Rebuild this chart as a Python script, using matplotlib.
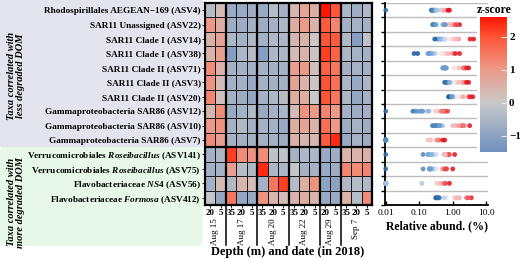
import numpy as np
import matplotlib
matplotlib.use("Agg")
import matplotlib.pyplot as plt
from matplotlib.colors import LinearSegmentedColormap, Normalize, TwoSlopeNorm
from matplotlib.colorbar import ColorbarBase
from matplotlib.patches import FancyBboxPatch, Rectangle

plt.rcParams["font.family"] = ["Liberation Serif", "DejaVu Serif"]
plt.rcParams["font.weight"] = "bold"
plt.rcParams["mathtext.fontset"] = "custom"
plt.rcParams["mathtext.rm"] = "Liberation Serif:bold"
plt.rcParams["mathtext.it"] = "Liberation Serif:italic:bold"

taxa = [
    "Rhodospirillales AEGEAN\u2212169 (ASV4)",
    "SAR11 Unassigned (ASV22)",
    "SAR11 Clade I (ASV14)",
    "SAR11 Clade I (ASV38)",
    "SAR11 Clade II (ASV71)",
    "SAR11 Clade II (ASV3)",
    "SAR11 Clade II (ASV20)",
    "Gammaproteobacteria SAR86 (ASV12)",
    "Gammaproteobacteria SAR86 (ASV10)",
    "Gammaproteobacteria SAR86 (ASV7)",
    "Verrucomicrobiales $\\it{Roseibacillus}$ (ASV141)",
    "Verrucomicrobiales $\\it{Roseibacillus}$ (ASV75)",
    "Flavobacteriaceae $\\it{NS4}$ (ASV56)",
    "Flavobacteriaceae $\\it{Formosa}$ (ASV412)",
]
dates = ["Aug 15", "Aug 17", "Aug 20", "Aug 22", "Aug 29", "Sep 7"]
depths = [["20", "5"], ["35", "20", "5"], ["35", "20", "5"],
          ["35", "20", "5"], ["20", "5"], ["35", "20", "5"]]

# z-score per taxon (rows) and sample (columns)
zscore = np.array([
    [-0.3, 0.3, -0.8, -0.8, -0.7, -0.8, -0.3, -0.6, 0.4, 0.8, 0.6, 2.6, 2.0, -0.5, -0.7, -0.4],
    [1.0, 0.6, -0.7, -0.7, -0.6, -0.7, -0.6, -0.5, 0.6, 1.0, 0.5, 1.9, 1.3, -0.6, -0.6, -0.6],
    [0.5, 0.8, -0.5, -0.6, -0.4, -0.6, -0.4, -0.5, 0.4, 0.5, 0.1, 2.0, 1.9, -0.4, -1.1, -0.2],
    [0.5, 0.9, -1.1, -0.5, -0.3, -1.1, -0.5, -0.5, 0.3, 0.5, 0.1, 2.2, 1.8, -0.5, -0.6, -0.6],
    [1.2, 0.5, -0.6, -0.6, -0.6, -0.6, -0.6, -0.6, 0.9, 1.0, 0.2, 1.8, 1.5, -0.6, -0.6, -0.6],
    [1.1, 0.3, -0.6, -0.6, -0.8, -0.6, -0.6, -0.6, 0.8, 0.5, 0.1, 2.0, 1.6, -0.5, -0.8, -0.5],
    [1.3, 0.2, -0.6, -0.7, -0.9, -0.6, -0.5, -0.3, 0.6, 0.6, 0.0, 2.0, 1.5, -0.5, -0.9, -0.6],
    [0.4, 1.2, -0.8, -0.6, -0.4, -0.8, -0.6, -0.5, 0.3, 1.1, 1.0, 1.3, 1.0, -0.6, -0.7, -0.6],
    [1.0, 1.1, -0.6, -0.4, -0.6, -0.6, -0.6, -0.8, 0.6, 0.8, 0.5, 1.6, 1.0, -0.7, -0.6, -0.7],
    [1.2, 0.9, -0.6, -0.6, -0.6, -0.6, -0.6, -0.7, 0.5, 0.4, 0.4, 1.9, 2.4, -0.8, -0.6, -0.7],
    [-0.6, -0.5, 2.2, 1.2, 1.1, 1.2, -0.2, -0.2, -0.6, -0.5, -0.5, -0.8, -0.7, 0.5, 0.5, 0.5],
    [-0.6, -0.6, 0.9, -0.3, -0.4, 2.4, -0.5, -0.5, -0.1, -0.6, -0.6, -0.8, -0.7, 1.3, 1.2, 1.3],
    [-0.6, 0.3, -0.4, 0.4, 0.3, -0.6, 1.5, 2.2, -0.3, 0.6, 1.1, -1.0, -1.0, -0.4, -0.3, -0.4],
    [-0.1, -0.9, 1.5, -0.9, -0.8, 1.1, 0.4, 0.3, 0.5, 0.6, 0.5, -0.8, -0.8, 0.5, -0.3, 1.2],
])

# relative abundance (%) per taxon and sample, 0 = not detected
abund = np.array([
    [0.35, 0.45, 0, 0.23, 0.26, 0.24, 0.36, 0.28, 0.5, 0.6, 0.55, 0.8, 0.72, 0.3, 0.26, 0.32],
    [1.1, 0.9, 0.26, 0.25, 0.3, 0.27, 0.32, 0.5, 0.85, 1.15, 0.7, 1.6, 1.3, 0.55, 0.6, 0.58],
    [1.2, 1.5, 0.4, 0.35, 0.45, 0.36, 0.5, 0.42, 1.0, 1.3, 0.8, 4.2, 3.3, 0.55, 0.29, 0.6],
    [0.75, 1.0, 0.07, 0.2, 0.3, 0.09, 0.22, 0.25, 0.55, 0.7, 0.45, 1.6, 1.2, 0.24, 0.18, 0.2],
    [2.3, 1.5, 0.55, 0.5, 0.6, 0.52, 0.58, 0.62, 2.0, 2.1, 1.1, 3.0, 2.6, 0.56, 0.65, 0.6],
    [2.2, 1.3, 0.7, 0.68, 0.57, 0.72, 0.7, 0.75, 1.9, 1.5, 1.1, 3.0, 2.6, 0.8, 0.6, 0.82],
    [3.0, 1.5, 0.95, 0.9, 0.75, 0.95, 1.0, 1.1, 2.1, 2.0, 1.3, 4.0, 3.4, 1.0, 0.78, 0.92],
    [0.35, 0.6, 0, 0.1, 0.2, 0.065, 0.12, 0.18, 0.3, 0.55, 0.5, 0.71, 0.45, 0.11, 0.08, 0.13],
    [1.8, 2.0, 0.35, 0.5, 0.4, 0.33, 0.38, 0.25, 1.2, 1.5, 1.0, 3.2, 2.2, 0.3, 0.42, 0.28],
    [0.38, 0.33, 0, 0, 0, 0, 0, 0, 0.22, 0.18, 0.2, 0.5, 0.58, 0, 0, 0],
    [0.2, 0.25, 1.14, 0.75, 0.72, 0.8, 0.3, 0.32, 0.18, 0.22, 0.24, 0, 0.13, 0.55, 0.6, 0.58],
    [0.2, 0.22, 0.5, 0.28, 0.25, 1.0, 0.24, 0.23, 0.33, 0.21, 0.2, 0, 0.13, 0.62, 0.58, 0.66],
    [0, 0.33, 0, 0.4, 0.36, 0, 0.6, 0.8, 0.12, 0.45, 0.55, 0, 0, 0, 0.12, 0],
    [0.65, 0.31, 3.6, 0.33, 0.36, 2.6, 1.2, 1.1, 1.4, 1.6, 1.3, 0.35, 0.4, 1.5, 0.55, 2.9],
])

VMIN, VMAX = -1.5, 2.6
cmap = LinearSegmentedColormap.from_list(
    "zs",
    [(0.0, "#6f8fbf"), (1.5 / 4.1, "#c9c9c9"), (2.5 / 4.1, "#ec9a88"),
     (3.5 / 4.1, "#ff5535"), (1.0, "#ff1500")],
)
norm = Normalize(VMIN, VMAX)
dot_cmap = LinearSegmentedColormap.from_list("dots", ["#16579a", "#9cc2e6", "#f6f0f0", "#f49a9a", "#e0101a"])
dot_norm = TwoSlopeNorm(vmin=-0.9, vcenter=0.0, vmax=1.6)

W, H = 520, 260


def fx(px):
    return px / W


def fy(py):
    return 1 - py / H


fig = plt.figure(figsize=(5.2, 2.6), dpi=100)

# group backgrounds on the left
fig.add_artist(FancyBboxPatch((0, 0.14), 2.03, 1.0, boxstyle="round,pad=0,rounding_size=0.06",
                              transform=fig.dpi_scale_trans, fc="#e8f8e8", ec="none", zorder=-1))
fig.add_artist(Rectangle((0, 1.13), 2.03, 1.47, transform=fig.dpi_scale_trans,
                         fc="#e4e4ee", ec="none", zorder=-1))
fig.text(fx(16), fy(76), "Taxa correlated with\nless degraded DOM", rotation=90,
         ha="center", va="center", fontsize=7.5, style="italic", linespacing=1.1)
fig.text(fx(16), fy(202), "Taxa correlated with\nmore degraded DOM", rotation=90,
         ha="center", va="center", fontsize=7.5, style="italic", linespacing=1.1)

# heatmap
hm = fig.add_axes([fx(205), fy(205), fx(167), 202 / H])
nrow, ncol = zscore.shape
hm.pcolormesh(zscore, cmap=cmap, norm=norm, edgecolors="#1a1a1a", linewidth=0.6)
hm.set_xlim(0, ncol)
hm.set_ylim(nrow, 0)
bounds = np.cumsum([len(d) for d in depths])
for b in bounds[:-1]:
    hm.axvline(b, color="black", lw=1.6)
    hm.plot([b, b], [nrow, nrow + 2.75], color="black", lw=1.1, clip_on=False)
hm.axhline(10, color="black", lw=1.6)
for s in hm.spines.values():
    s.set_linewidth(1.6)
hm.set_yticks(np.arange(nrow) + 0.5)
hm.set_yticklabels(taxa, fontsize=6.7)
hm.set_xticks(np.arange(ncol) + 0.5)
hm.set_xticklabels([d for g in depths for d in g], fontsize=6.5)
hm.tick_params(axis="both", length=2, width=0.6, pad=1)
start = 0
for date, b in zip(dates, bounds):
    hm.text((start + b) / 2, nrow + 0.95, date, rotation=90, ha="center", va="top", fontsize=6.5,
            fontweight="normal")
    start = b
fig.text(fx(288), fy(252), "Depth (m) and date (in 2018)", ha="center", va="center", fontsize=9)

# relative abundance dot plot
dp = fig.add_axes([fx(385), fy(205), fx(103), 202 / H])
dp.set_xscale("log")
dp.set_xlim(0.0095, 11.3)
dp.set_ylim(nrow, 0)
dp.hlines(np.arange(nrow), 0.0095, 11.3, color="#bdbdbd", lw=1.0, zorder=1)
for i in range(nrow):
    vals = np.where(abund[i] > 0, abund[i], 0.01)
    dp.scatter(vals, np.full(ncol, i + 0.5), c=zscore[i], cmap=dot_cmap, norm=dot_norm,
               s=12, alpha=0.85, edgecolors="none", zorder=3, clip_on=False)
dp.set_yticks(np.arange(nrow + 1))
dp.set_yticklabels([])
dp.tick_params(axis="y", length=3, width=1.0)
dp.set_xticks([0.01, 0.1, 1, 10])
dp.set_xticklabels(["0.01", "0.10", "1.00", "10.0"], fontsize=6.8, fontweight="normal")
dp.tick_params(axis="x", which="major", direction="in", length=3, width=1.0, pad=3)
dp.tick_params(axis="x", which="minor", direction="in", length=2, width=0.8)
dp.spines["top"].set_visible(False)
dp.spines["right"].set_visible(False)
dp.spines["left"].set_linewidth(1.3)
dp.spines["bottom"].set_linewidth(1.3)
fig.text(fx(437), fy(226), "Relative abund. (%)", ha="center", va="center", fontsize=8.5)

# colour bar
fig.add_artist(Rectangle((fx(477), fy(157)), fx(43), 151 / H, transform=fig.transFigure,
                         fc="white", ec="none", zorder=1))
cax = fig.add_axes([fx(480), fy(152), fx(27), 135 / H])
cax.set_zorder(2)
cb = ColorbarBase(cax, cmap=cmap, norm=norm, orientation="vertical")
cb.outline.set_visible(False)
cb.set_ticks([-1, 0, 1, 2])
cb.ax.set_yticklabels(["\u22121", "0", "1", "2"], fontsize=8)
cax.tick_params(direction="in", length=4, width=0.8, color="#e6e6e6", pad=1.5)
fig.text(fx(494), fy(10), "z-score", ha="center", va="center", fontsize=8.5, zorder=3)

fig.savefig("out.png", dpi=100)
